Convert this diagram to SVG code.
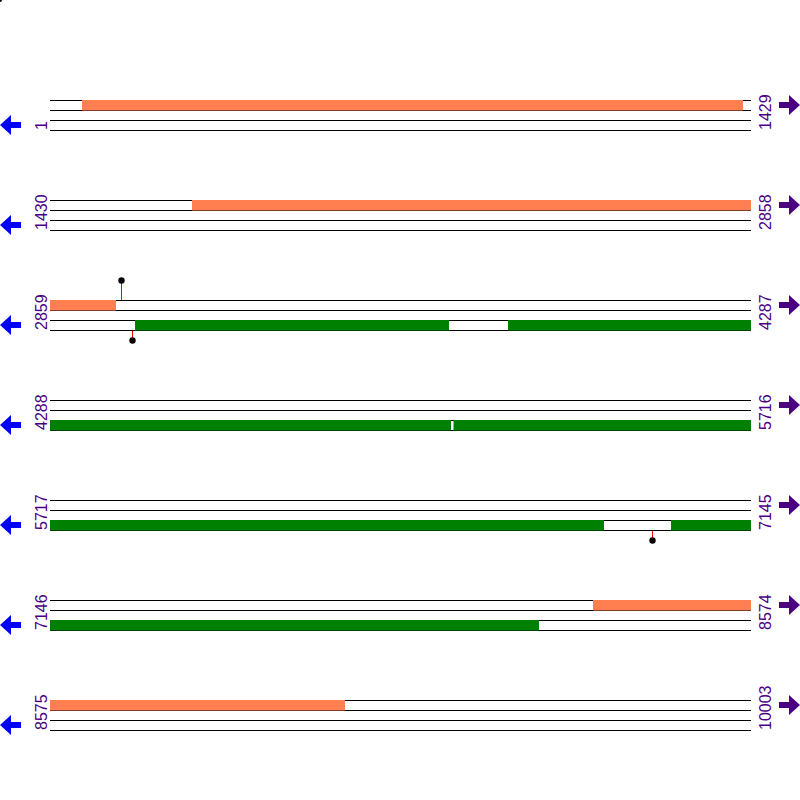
<svg xmlns="http://www.w3.org/2000/svg" width="800" height="800" viewBox="0 0 800 800">
<style>
.ln{stroke:#000;stroke-width:1;fill:none}
.or{fill:#FF7F50}
.gr{fill:#008000}
.lbl{font-family:"Liberation Sans",Arial,sans-serif;font-size:16px;fill:#4B0082}
.la{fill:#0000FF}
.ra{fill:#4B0082}
.stem{stroke:#FF0000;stroke-width:1}
</style>
<defs>
<g id="track">
<path class="ln" d="M50 100.5H751M50 110.5H751M50 120.5H751M50 130.5H751"/>
</g>
<polygon id="larrow" class="la" points="0,125 11,115 11,122 21,122 21,128 11,128 11,135"/>
<polygon id="rarrow" class="ra" points="800,105 789,95 789,102 779,102 779,108 789,108 789,115"/>
</defs>
<rect width="800" height="800" fill="#fff"/>
<circle cx="0" cy="0" r="2" fill="#000"/>

<g id="row1">
<use href="#track"/>
<rect class="or" x="82" y="100" width="661" height="10.5"/>
<use href="#larrow"/><use href="#rarrow"/>
<text class="lbl" transform="translate(46.5,130) rotate(-90)">1</text>
<text class="lbl" transform="translate(771,130) rotate(-90)">1429</text>
</g>

<g id="row2" transform="translate(0,100)">
<use href="#track"/>
<rect class="or" x="192" y="100" width="559" height="10.5"/>
<use href="#larrow"/><use href="#rarrow"/>
<text class="lbl" transform="translate(46.5,130) rotate(-90)">1430</text>
<text class="lbl" transform="translate(771,130) rotate(-90)">2858</text>
</g>

<g id="row3" transform="translate(0,200)">
<use href="#track"/>
<rect class="or" x="50" y="100" width="66" height="10.5"/>
<rect class="gr" x="135" y="120" width="314" height="10.5"/>
<rect class="gr" x="508" y="120" width="243" height="10.5"/>
<line class="stem" x1="121.5" y1="100" x2="121.5" y2="81"/>
<circle cx="121.5" cy="80.5" r="3.2" fill="#000"/>
<line class="stem" x1="132.5" y1="131" x2="132.5" y2="140"/>
<circle cx="132.5" cy="140.5" r="3.2" fill="#000"/>
<use href="#larrow"/><use href="#rarrow"/>
<text class="lbl" transform="translate(46.5,130) rotate(-90)">2859</text>
<text class="lbl" transform="translate(771,130) rotate(-90)">4287</text>
</g>

<g id="row4" transform="translate(0,300)">
<use href="#track"/>
<rect class="gr" x="50" y="120" width="401" height="10.5"/>
<rect class="gr" x="453.5" y="120" width="297.5" height="10.5"/>
<use href="#larrow"/><use href="#rarrow"/>
<text class="lbl" transform="translate(46.5,130) rotate(-90)">4288</text>
<text class="lbl" transform="translate(771,130) rotate(-90)">5716</text>
</g>

<g id="row5" transform="translate(0,400)">
<use href="#track"/>
<rect class="gr" x="50" y="120" width="554" height="10.5"/>
<rect class="gr" x="671" y="120" width="80" height="10.5"/>
<line class="stem" x1="652.5" y1="131" x2="652.5" y2="140"/>
<circle cx="652.5" cy="140.5" r="3.2" fill="#000"/>
<use href="#larrow"/><use href="#rarrow"/>
<text class="lbl" transform="translate(46.5,130) rotate(-90)">5717</text>
<text class="lbl" transform="translate(771,130) rotate(-90)">7145</text>
</g>

<g id="row6" transform="translate(0,500)">
<use href="#track"/>
<rect class="or" x="593" y="100" width="158" height="10.5"/>
<rect class="gr" x="50" y="120" width="489" height="10.5"/>
<use href="#larrow"/><use href="#rarrow"/>
<text class="lbl" transform="translate(46.5,130) rotate(-90)">7146</text>
<text class="lbl" transform="translate(771,130) rotate(-90)">8574</text>
</g>

<g id="row7" transform="translate(0,600)">
<use href="#track"/>
<rect class="or" x="50" y="100" width="295" height="10.5"/>
<use href="#larrow"/><use href="#rarrow"/>
<text class="lbl" transform="translate(46.5,130) rotate(-90)">8575</text>
<text class="lbl" transform="translate(771,130) rotate(-90)">10003</text>
</g>
</svg>
